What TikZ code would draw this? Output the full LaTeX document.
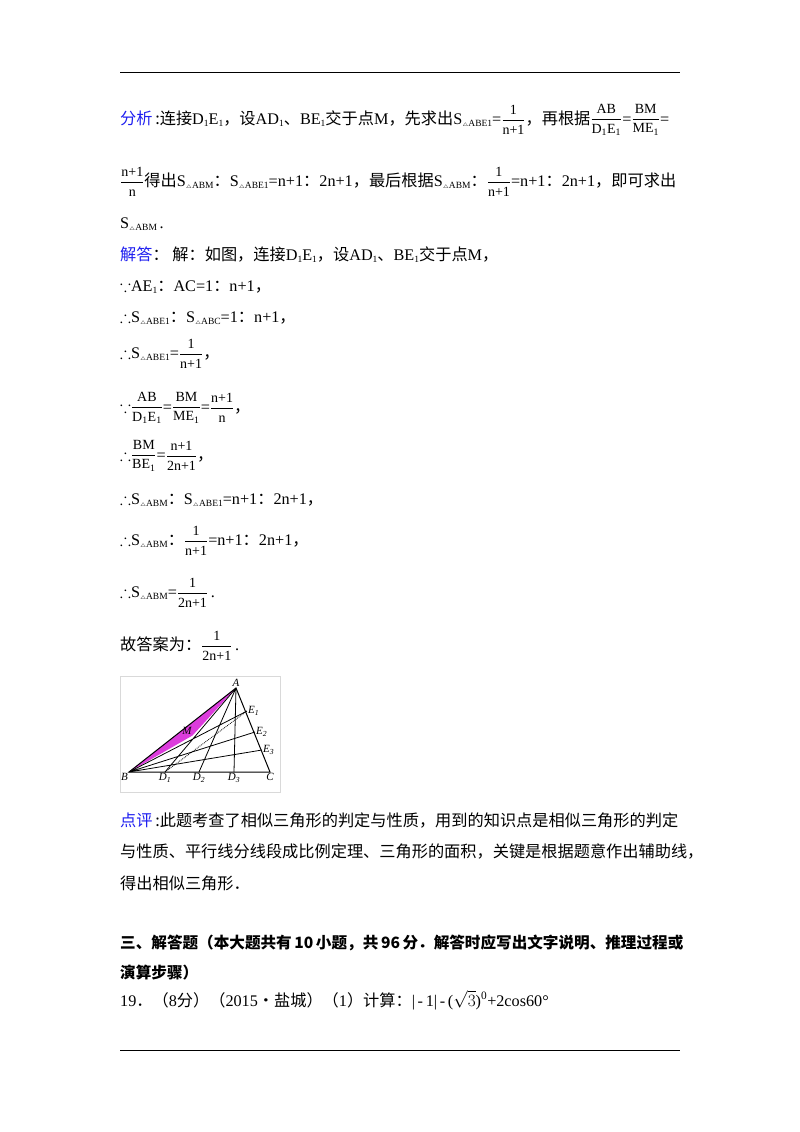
\documentclass[tikz,border=0pt]{standalone}
\usepackage{amssymb}
\usepackage{fontspec}
\setmainfont{Liberation Serif}
\newfontfamily\cjk{Noto Sans CJK SC}
\newcommand{\C}[1]{{\cjk #1}}
\newcommand{\Sb}[1]{\raisebox{-0.35ex}{\fontsize{9.5}{9.5}\selectfont #1}}
\newcommand{\Tri}{$\scriptscriptstyle\triangle$}
\newcommand{\Fr}[2]{$\vcenter{\hbox{\fontsize{14}{14}\selectfont$\displaystyle\frac{\mbox{#1}}{\mbox{#2}}$}}$}
\definecolor{blu}{RGB}{30,30,240}
\definecolor{mag}{RGB}{220,60,220}
\begin{document}
\begin{tikzpicture}[x=1pt,y=-1pt,
 t/.style={anchor=base west,inner sep=0pt,font=\fontsize{16.2}{16.2}\selectfont},
 hd/.style={anchor=base west,inner sep=0pt,font=\fontsize{15.6}{15.6}\selectfont\cjk\bfseries},
 lab/.style={inner sep=1pt,font=\fontsize{11}{11}\selectfont\itshape}]
\useasboundingbox[fill=white] (0,0) rectangle (800,1132);
\draw[line width=0.8pt] (120,72) -- (680,72);
\draw[line width=0.8pt] (120,1050) -- (680,1050);
\node[t] (l1) at (120,124) {\C{\textcolor{blu}{分析}\,:连接}D\Sb{1}E\Sb{1}\C{，设}AD\Sb{1}\C{、}BE\Sb{1}\C{交于点}M\C{，先求出}S\Sb{\Tri ABE1}=\Fr{1}{n+1}\C{，再根据}\Fr{AB}{D\textsubscript1E\textsubscript1}=\Fr{BM}{ME\textsubscript1}=};
\node[t] (l2) at (120,186) {\Fr{n+1}{n}\C{得出}S\Sb{\Tri ABM}\C{：}S\Sb{\Tri ABE1}=n+1\C{：}2n+1\C{，最后根据}S\Sb{\Tri ABM}\C{：}\Fr{1}{n+1}=n+1\C{：}2n+1\C{，即可求出}};
\node[t] (l3) at (120,228) {S\Sb{\Tri ABM}\,.};
\node[t] (l4) at (120,260) {\C{\textcolor{blu}{解答}：\ 解：如图，连接}D\Sb{1}E\Sb{1}\C{，设}AD\Sb{1}\C{、}BE\Sb{1}\C{交于点}M\C{，}};
\node[t] (l5) at (120,291) {$\because$AE\Sb{1}\C{：}AC=1\C{：}n+1\C{，}};
\node[t] (l6) at (120,322) {$\therefore$S\Sb{\Tri ABE1}\C{：}S\Sb{\Tri ABC}=1\C{：}n+1\C{，}};
\node[t] (l7) at (120,358) {$\therefore$S\Sb{\Tri ABE1}=\Fr{1}{n+1}\C{，}};
\node[t] (l8) at (120,412) {$\because$\Fr{AB}{D\textsubscript1E\textsubscript1}=\Fr{BM}{ME\textsubscript1}=\Fr{n+1}{n}\C{，}};
\node[t] (l9) at (120,460) {$\therefore$\Fr{BM}{BE\textsubscript1}=\Fr{n+1}{2n+1}\C{，}};
\node[t] (l10) at (120,504) {$\therefore$S\Sb{\Tri ABM}\C{：}S\Sb{\Tri ABE1}=n+1\C{：}2n+1\C{，}};
\node[t] (l11) at (120,545) {$\therefore$S\Sb{\Tri ABM}\C{：}\Fr{1}{n+1}=n+1\C{：}2n+1\C{，}};
\node[t] (l12) at (120,597) {$\therefore$S\Sb{\Tri ABM}=\Fr{1}{2n+1}\,.};
\node[t] (l13) at (120,650) {\C{故答案为：}\Fr{1}{2n+1}\,.};
% figure
\draw[gray!30] (120,676) rectangle (280,792);
\coordinate (A) at (236,688);
\coordinate (B) at (129,772);
\coordinate (C) at (270,772);
\coordinate (D1) at (165,772);
\coordinate (D2) at (199,772);
\coordinate (D3) at (234,772);
\coordinate (E1) at (247,711);
\coordinate (E2) at (255,732);
\coordinate (E3) at (262,750);
\coordinate (M) at (192.5,735.5);
\fill[mag] (A) -- (B) -- (M) -- cycle;
\draw[line width=1pt] (A)--(B)--(C)--cycle;
\draw[line width=0.8pt] (A)--(D1) (A)--(D2) (A)--(D3) (B)--(E1) (B)--(E2) (B)--(E3);
\draw[densely dotted, line width=0.8pt] (D1)--(E1);
\node[lab,above] at (A) {A};
\node[lab,anchor=west] at (E1) {E\textsubscript1};
\node[lab,anchor=west] at (E2) {E\textsubscript2};
\node[lab,anchor=west] at (E3) {E\textsubscript3};
\node[lab,below left] at (B) {B};
\node[lab,below] at (D1) {D\textsubscript1};
\node[lab,below] at (D2) {D\textsubscript2};
\node[lab,below] at (D3) {D\textsubscript3};
\node[lab,below] at (C) {C};
\node[lab] at (187,731) {M};
\node[t] (p1) at (120,826) {\C{\textcolor{blu}{点评}\,:此题考查了相似三角形的判定与性质，用到的知识点是相似三角形的判定}};
\node[t] (p2) at (120,857) {\C{与性质、平行线分线段成比例定理、三角形的面积，关键是根据题意作出辅助线，}};
\node[t] (p3) at (120,889) {\C{得出相似三角形．}};
\node[hd] (s1) at (120,948) {三、解答题（本大题共有\,10\,小题，共\,96\,分．解答时应写出文字说明、推理过程或};
\node[hd] (s2) at (120,978) {演算步骤）};
\node[t] (s3) at (120,1006) {19\C{．（}8\C{分）（}2015\C{•盐城）（}1\C{）计算：}|\,-\,1|\,-\,($\sqrt{3}$)\textsuperscript{0}+2cos60°};
\end{tikzpicture}
\end{document}
